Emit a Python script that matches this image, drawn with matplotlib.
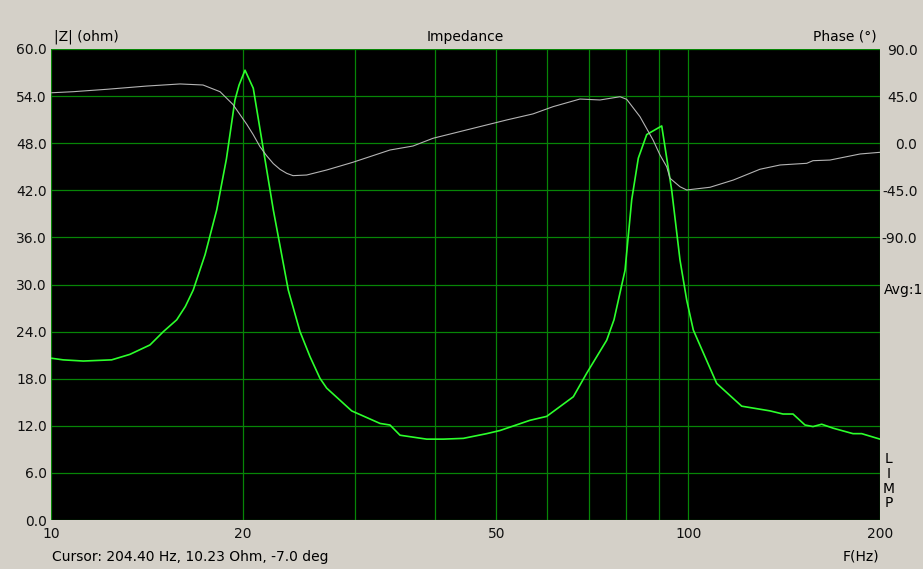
import matplotlib
matplotlib.use("Agg")
import matplotlib.pyplot as plt

# impedance magnitude (green)
freq_z = [10.03, 10.45, 11.24, 12.45, 13.30, 14.30, 15.01, 15.75, 16.25, 16.72,
          17.45, 18.20, 18.85, 19.44, 19.73, 20.16, 20.77, 22.33, 23.57, 24.59,
          25.50, 26.43, 27.08, 29.64, 32.84, 34.04, 35.30, 38.87, 41.28, 44.37,
          48.28, 50.66, 56.46, 59.97, 66.03, 69.30, 74.49, 76.48, 79.59, 81.54,
          83.51, 86.08, 90.88, 94.22, 97.09, 99.47, 101.87, 110.85, 121.33, 134.40,
          140.86, 146.05, 152.52, 156.98, 162.0, 168.8, 181.4, 187.2, 200.0]
z_ohm = [20.6, 20.4, 20.25, 20.4, 21.1, 22.3, 24.0, 25.5, 27.2, 29.3,
         33.8, 39.5, 46.0, 53.5, 55.4, 57.3, 55.0, 39.5, 29.3, 24.0,
         20.8, 18.05, 16.8, 13.9, 12.3, 12.1, 10.8, 10.3, 10.3, 10.4,
         11.0, 11.4, 12.7, 13.2, 15.7, 18.7, 22.9, 25.5, 31.8, 40.8,
         46.1, 49.1, 50.2, 42.0, 33.1, 28.0, 24.2, 17.4, 14.5, 13.9,
         13.5, 13.5, 12.1, 11.9, 12.2, 11.7, 11.0, 11.0, 10.3]

# phase (gray)
freq_ph = [10.03, 10.83, 12.23, 14.13, 15.94, 17.32, 18.42, 19.30, 20.29, 20.75,
           21.28, 21.80, 22.33, 22.88, 23.44, 23.98, 25.19, 27.08, 29.78, 34.04,
           36.99, 39.77, 45.95, 51.90, 57.08, 61.36, 67.63, 72.71, 78.17, 80.08,
           84.02, 88.07, 90.32, 92.53, 93.64, 97.09, 99.47, 108.2, 117.7, 129.6,
           139.4, 153.5, 157.0, 166.9, 186.1, 200.0]
phase_deg = [48.2, 49.2, 51.5, 54.6, 56.6, 55.6, 49.2, 37.0, 18.0, 8.5,
             -3.3, -12.0, -19.5, -25.0, -28.8, -31.0, -30.4, -25.6, -18.2, -6.5,
             -2.7, 4.7, 14.2, 22.2, 28.0, 34.9, 42.2, 41.3, 44.4, 41.9,
             25.3, 3.1, -11.3, -22.5, -33.5, -41.6, -44.7, -42.1, -35.2, -24.9,
             -20.8, -19.2, -16.7, -16.1, -10.3, -8.7]

x_ticks = [10, 20, 50, 100, 200]
x_minor = [30, 40, 60, 70, 80, 90]
z_ticks = [0, 6, 12, 18, 24, 30, 36, 42, 48, 54, 60]
phase_ticks = [-90, -45, 0, 45, 90]

bg = "#d4d0c8"
W, H = 923, 569

plt.rcParams["font.family"] = "DejaVu Sans"
plt.rcParams["font.size"] = 10

fig = plt.figure(figsize=(W / 100, H / 100), dpi=100, facecolor=bg)
ax = fig.add_axes([51 / W, (H - 520) / H, 829 / W, 471 / H])
ax.set_facecolor("black")
ax.set_xscale("log")
ax.set_xlim(10, 200)
ax.set_ylim(0, 60)
ax.set_xticks(x_ticks)
ax.set_xticklabels([str(t) for t in x_ticks])
ax.set_xticks(x_minor, minor=True)
ax.set_xticklabels([], minor=True)
ax.set_yticks(z_ticks)
ax.set_yticklabels([f"{t:.1f}" for t in z_ticks])
ax.tick_params(which="both", length=0, colors="#101010")
ax.tick_params(axis="y", pad=3)
ax.tick_params(axis="x", pad=5)
ax.grid(True, which="both", color="#078507", linewidth=0.9)
ax.set_axisbelow(True)
for s in ax.spines.values():
    s.set_visible(False)

ax.plot(freq_z, z_ohm, color="#2cff2c", linewidth=1.2, zorder=3)

# phase on its own scale, 45 deg per 6 ohm
ax2 = ax.twinx()
ax2.set_ylim(-360, 90)
ax2.set_yticks(phase_ticks)
ax2.set_yticklabels([f"{t:.1f}" for t in phase_ticks])
for lab in ax2.get_yticklabels():
    lab.set_horizontalalignment("right")
ax2.tick_params(length=0, pad=27, colors="#101010")
for s in ax2.spines.values():
    s.set_visible(False)
ax2.plot(freq_ph, phase_deg, color="#b4b4b4", linewidth=0.8, zorder=2)

# labels around the frame
fig.text(54 / W, 1 - 37 / H, "|Z| (ohm)", ha="left", va="center")
fig.text(465 / W, 1 - 37 / H, "Impedance", ha="center", va="center")
fig.text(877 / W, 1 - 37 / H, "Phase (°)", ha="right", va="center")
fig.text(884 / W, 1 - 290 / H, "Avg:1", ha="left", va="center")
for i, ch in enumerate("LIMP"):
    fig.text(889 / W, 1 - (459 + i * 14.8) / H, ch, ha="center", va="center")
fig.text(52 / W, 1 - 557 / H, "Cursor: 204.40 Hz, 10.23 Ohm, -7.0 deg",
         ha="left", va="center")
fig.text(879 / W, 1 - 557 / H, "F(Hz)", ha="right", va="center")

fig.savefig("out.png", dpi=100, facecolor=bg)
